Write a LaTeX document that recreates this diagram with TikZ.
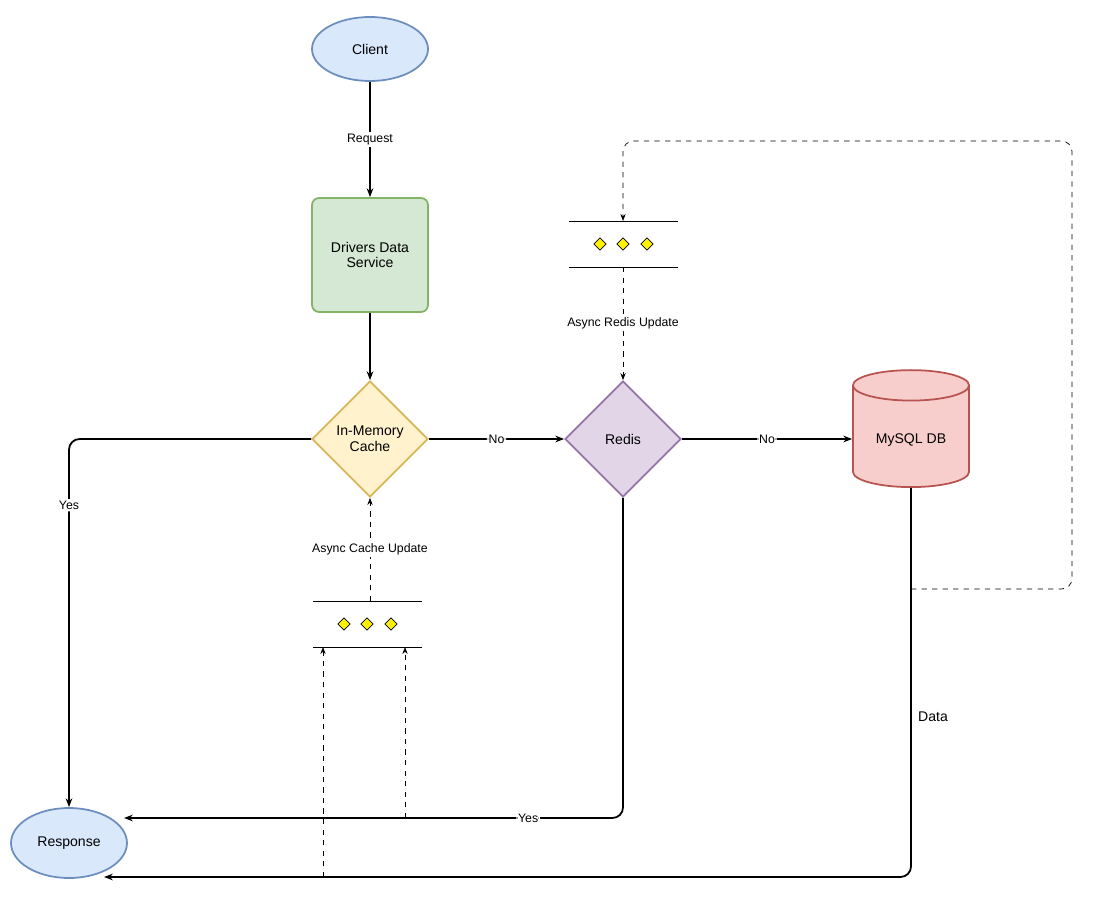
\documentclass[tikz,border=0pt]{standalone}
\usepackage{fontspec}
\setmainfont{Liberation Sans}
\usetikzlibrary{shapes.geometric,positioning,arrows.meta}
\definecolor{blueF}{HTML}{DAE8FC}\definecolor{blueS}{HTML}{6C8EBF}
\definecolor{greenF}{HTML}{D5E8D4}\definecolor{greenS}{HTML}{82B366}
\definecolor{yelF}{HTML}{FFF2CC}\definecolor{yelS}{HTML}{D6B656}
\definecolor{purF}{HTML}{E1D5E7}\definecolor{purS}{HTML}{9673A6}
\definecolor{redF}{HTML}{F8CECC}\definecolor{redS}{HTML}{B85450}
\tikzset{
  term/.style={ellipse,draw=blueS,fill=blueF,line width=1pt,minimum width=2.32cm,font=\fontsize{8}{9}\selectfont},
  dec/.style={diamond,draw,line width=1pt,minimum width=2.32cm,minimum height=2.32cm,inner sep=0pt,align=center,font=\fontsize{8}{9}\selectfont},
  flow/.style={-{Stealth[length=5pt]},line width=1pt,rounded corners=6pt},
  async/.style={-{Stealth[length=4pt]},dashed,thin,rounded corners=6pt},
  lbl/.style={fill=white,inner sep=1pt,font=\fontsize{7}{8}\selectfont},
  msg/.style={diamond,draw=black,fill=yellow,thin,minimum size=0.25cm,inner sep=0pt}
}
\begin{document}
\begin{tikzpicture}[x=0.02cm,y=-0.02cm]
\useasboundingbox (0,0) rectangle (1098,905);
% nodes
\node[term,minimum height=1.28cm] (client) at (370,49) {Client};
\node[draw=greenS,fill=greenF,line width=1pt,rounded corners=4pt,minimum width=2.32cm,minimum height=2.28cm,align=center,font=\fontsize{8}{9}\selectfont] (dds) at (370,255) {Drivers Data\\Service};
\node[dec,draw=yelS,fill=yelF] (cache) at (370,439) {In-Memory\\Cache};
\node[dec,draw=purS,fill=purF] (redis) at (623,439) {Redis};
\node[cylinder,shape border rotate=90,aspect=2.6,draw=redS,fill=redF,line width=1pt,minimum width=2.32cm,minimum height=2.34cm,font=\fontsize{8}{9}\selectfont] (db) at (911,440) {};
\node[font=\fontsize{8}{9}\selectfont] at (911,440) {MySQL DB};
\node[term,minimum height=1.4cm] (resp) at (69,843) {Response};
% queues
\draw (569,221) -- (678,221) (569,267) -- (678,267);
\foreach \x in {600,623,647} \node[msg] at (\x,244) {};
\draw (313,601) -- (422,601) (313,647) -- (422,647);
\foreach \x in {344,367,391} \node[msg] at (\x,624) {};
\coordinate (qtop) at (623,221); \coordinate (qtopb) at (623,267);
\coordinate (qbot) at (370,601);
\coordinate (qbl) at (323,647); \coordinate (qbr) at (405,647);
% flow
\draw[flow] (client) -- node[lbl]{Request} (dds);
\draw[flow] (dds) -- (cache);
\draw[flow] (cache.west) -| node[lbl,pos=0.59]{Yes} (resp.north);
\draw[flow] (cache.east) -- node[lbl]{No} (redis.west);
\draw[flow] (redis.east) -- node[lbl]{No} (db.west |- redis.east);
\draw[flow] (redis.south) |- node[lbl,pos=0.595]{Yes} (124,818);
\draw[flow] (db.bottom) |- (104,877);
\node[font=\fontsize{8}{9}\selectfont] at (933,717) {Data};
% async
\draw[async] (911,589) -- (1072,589) -- (1072,141) -- (623,141) -- (qtop);
\draw[async] (qtopb) -- node[lbl]{Async Redis Update} (redis.north);
\draw[async] (qbot) -- node[lbl]{Async Cache Update} (cache.south);
\draw[async] (323,877) -- (qbl);
\draw[async] (405,818) -- (qbr);
\end{tikzpicture}
\end{document}
